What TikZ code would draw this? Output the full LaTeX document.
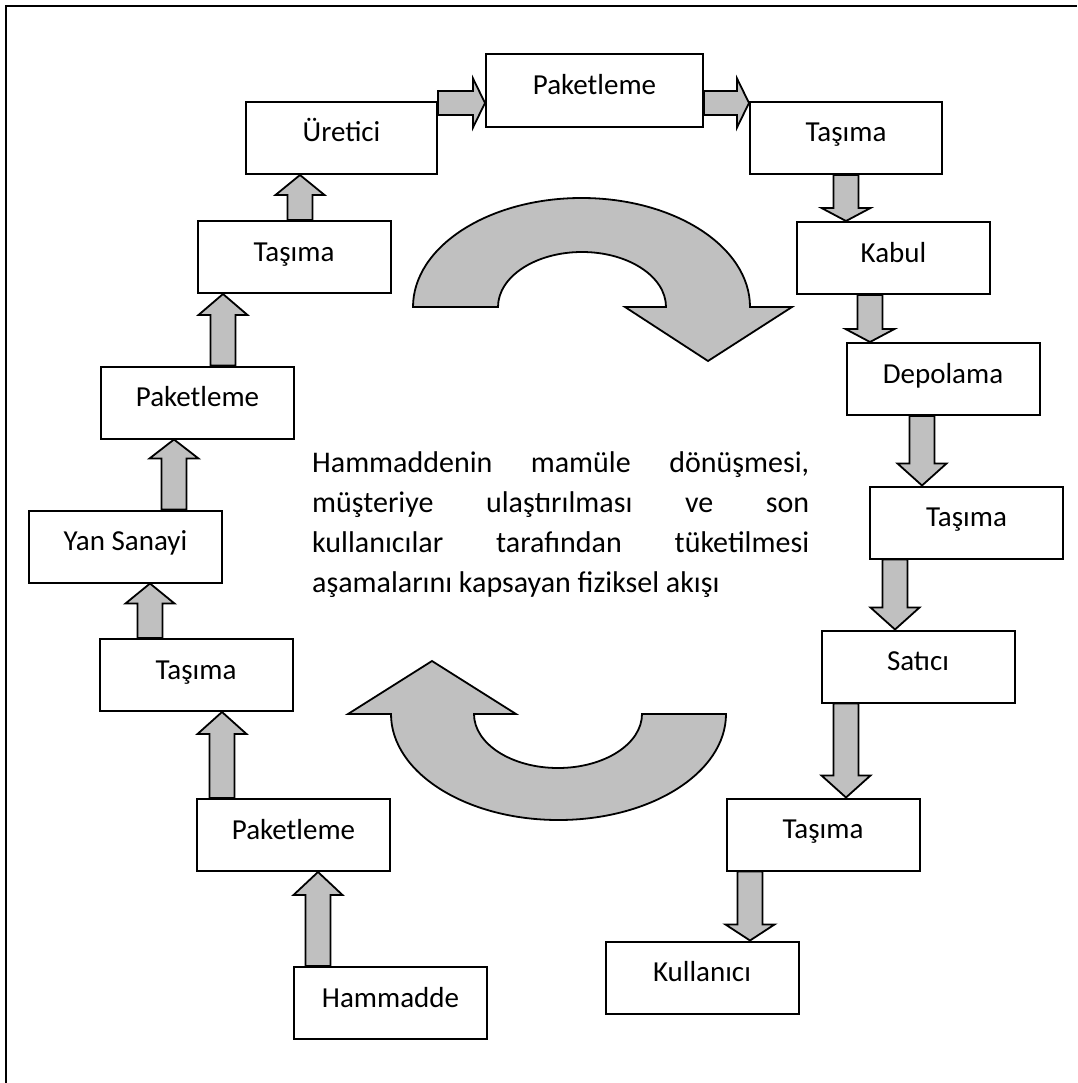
\documentclass[tikz,border=0pt]{standalone}
\usepackage{fontspec}
\setmainfont{Carlito}
\usetikzlibrary{calc}
\definecolor{arrgray}{RGB}{192,192,192}
\tikzset{
  stagebox/.style={draw=black, line width=2pt, fill=white, minimum width=193pt,
    minimum height=72pt, inner sep=0pt, text height=40pt, text depth=32pt,
    font=\fontsize{29}{34}\selectfont},
  blk/.style={draw=black, line width=1.8pt, fill=arrgray, line join=miter},
}
\newcommand\uarrow[3]{%
  \coordinate (vt) at #1;
  \filldraw[blk] let \p1=(vt), \p2=(vt |- #2) in
    (\x1-12.5pt,\y1) -- (\x1-12.5pt,\y2-#3) -- (\x1-24.5pt,\y2-#3) -- (\x1,\y2)
    -- (\x1+24.5pt,\y2-#3) -- (\x1+12.5pt,\y2-#3) -- (\x1+12.5pt,\y1) -- cycle;}
\newcommand\darrow[3]{%
  \coordinate (vt) at #1;
  \filldraw[blk] let \p1=(vt), \p2=(vt |- #2) in
    (\x1-12.5pt,\y1) -- (\x1-12.5pt,\y2+#3) -- (\x1-24.5pt,\y2+#3) -- (\x1,\y2)
    -- (\x1+24.5pt,\y2+#3) -- (\x1+12.5pt,\y2+#3) -- (\x1+12.5pt,\y1) -- cycle;}
\newcommand\rarrow[3]{%
  \coordinate (vt) at #1;
  \filldraw[blk] let \p1=(vt), \p2=(vt -| #2) in
    (\x1,\y1+12pt) -- (\x2-#3,\y1+12pt) -- (\x2-#3,\y1+24.5pt) -- (\x2,\y1)
    -- (\x2-#3,\y1-24.5pt) -- (\x2-#3,\y1-12pt) -- (\x1,\y1-12pt) -- cycle;}
\begin{document}
\begin{tikzpicture}[x=1pt,y=-1pt]
\useasboundingbox (0,0) rectangle (1077,1083);
% frame (top and left edges)
\draw[line width=2.5pt] (6,1083) -- (6,6) -- (1077,6);

% stage boxes
\node[stagebox, minimum width=191pt] (ure) at (341.5,138) {Üretici};
\node[stagebox, minimum width=217pt, minimum height=73pt, text height=40.5pt, text depth=32.5pt] (pak1) at (594.5,90.5) {Paketleme};
\node[stagebox, minimum width=192pt] (tas1) at (846,138) {Taşıma};
\node[stagebox] (kab)  at (893.5,258)  {Kabul};
\node[stagebox] (dep)  at (943,379)    {Depolama};
\node[stagebox] (tas2) at (966.5,522.5){Taşıma};
\node[stagebox] (sat)  at (918,666.5)  {Satıcı};
\node[stagebox] (tas3) at (823,834.5)  {Taşıma};
\node[stagebox] (kul)  at (702,977.5)  {Kullanıcı};
\node[stagebox] (tas6) at (294,257)    {Taşıma};
\node[stagebox] (pak3) at (197.5,402.5){Paketleme};
\node[stagebox] (yan)  at (125.5,546.5){Yan Sanayi};
\node[stagebox] (tas5) at (196,675)    {Taşıma};
\node[stagebox] (pak2) at (293.5,835)  {Paketleme};
\node[stagebox] (ham)  at (390.5,1003) {Hammadde};

% block arrows between stages
\uarrow{([xshift=-72.5pt]ham.north)}{pak2.south}{23pt}
\uarrow{([xshift=-71.5pt]pak2.north)}{tas5.south}{22pt}
\uarrow{([xshift=-46pt]tas5.north)}{yan.south}{20pt}
\uarrow{([xshift=48.5pt]yan.north)}{pak3.south}{19pt}
\uarrow{([xshift=25.5pt]pak3.north)}{tas6.south}{21pt}
\uarrow{([xshift=6pt]tas6.north)}{ure.south}{20pt}
\rarrow{([yshift=35pt]ure.east)}{pak1.west}{12pt}
\rarrow{([yshift=-12.5pt]pak1.east)}{tas1.west}{12pt}
\darrow{([xshift=0pt]tas1.south)}{kab.north}{13pt}
\darrow{([xshift=-23.5pt]kab.south)}{dep.north}{13pt}
\darrow{([xshift=-21pt]dep.south)}{tas2.north}{22pt}
\darrow{([xshift=-71.5pt]tas2.south)}{sat.north}{22pt}
\darrow{([xshift=-72pt]sat.south)}{tas3.north}{22pt}
\darrow{([xshift=-73pt]tas3.south)}{kul.north}{16pt}

% curved cycle arrows
\filldraw[blk] (413,307) arc[start angle=180, end angle=0, x radius=168.5pt, y radius=109pt]
  -- (792,307) -- (708,361) -- (625,307) -- (666,307)
  arc[start angle=0, end angle=180, x radius=84pt, y radius=55pt] -- cycle;
\filldraw[blk] (726,714) arc[start angle=0, end angle=-180, x radius=167.5pt, y radius=106pt]
  -- (348,714) -- (432,661) -- (516,714) -- (474,714)
  arc[start angle=180, end angle=360, x radius=84pt, y radius=54pt] -- cycle;

% central text
\node[anchor=north west, inner sep=0pt, text width=497pt, align=justify,
  font=\fontsize{30}{40}\selectfont] (txt) at (312,451)
  {Hammaddenin mamüle dönüşmesi,\linebreak müşteriye ulaştırılması ve son\linebreak kullanıcılar tarafından tüketilmesi\linebreak aşamalarını kapsayan fiziksel akışı};
\end{tikzpicture}
\end{document}
